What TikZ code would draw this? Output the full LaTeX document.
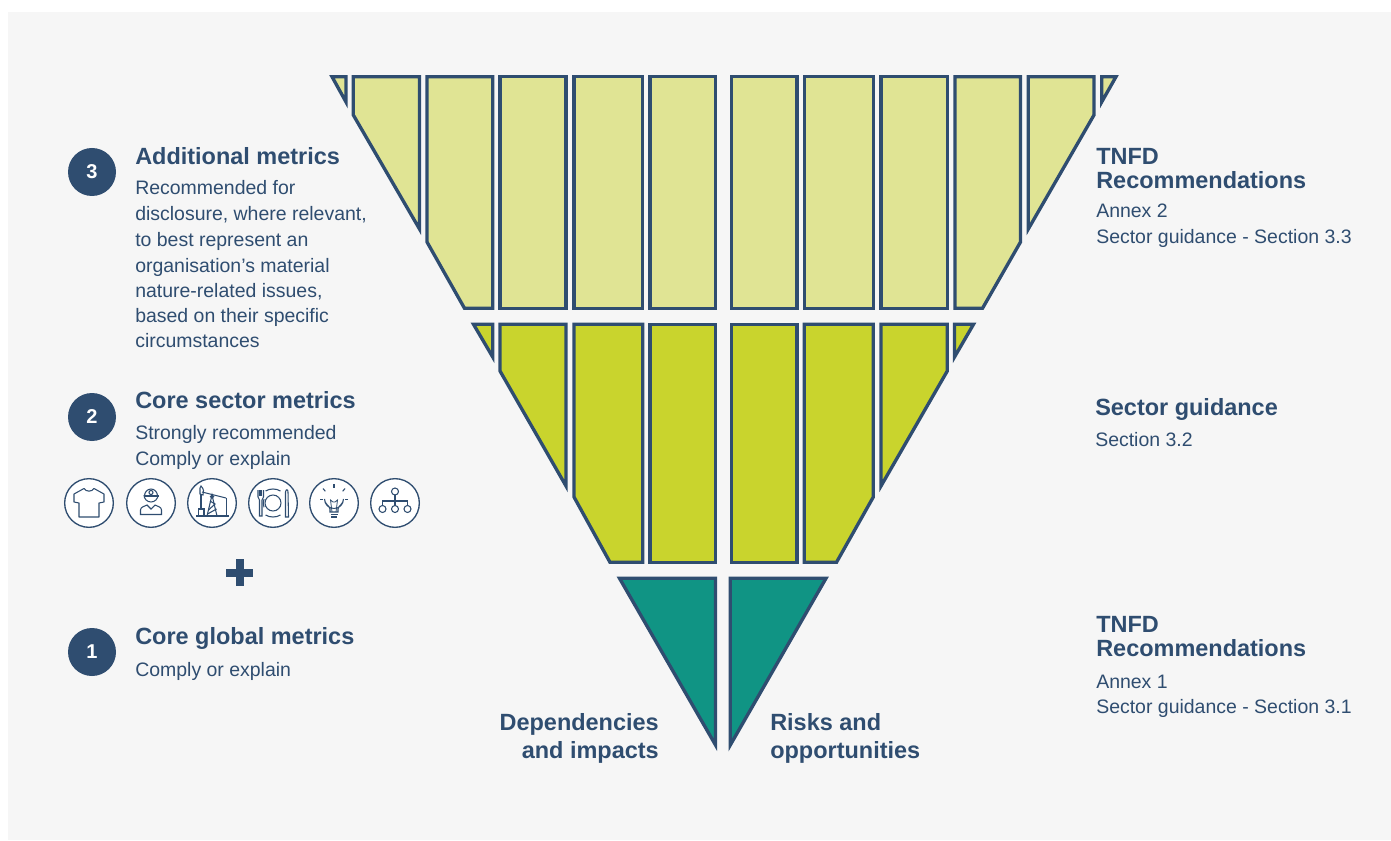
\documentclass[tikz,border=0pt]{standalone}
\usepackage{fontspec}
\setmainfont{Liberation Sans}
\definecolor{navy}{HTML}{2F4D70}
\definecolor{bgc}{HTML}{F6F6F6}
\definecolor{pale}{HTML}{E0E494}
\definecolor{lime}{HTML}{C9D42D}
\definecolor{teal2}{HTML}{109484}
\tikzset{
  panel/.style={draw=navy,line width=2.5pt,miter limit=10,line join=miter},
  icon/.style={draw=navy,line width=0.8pt},
  head/.style={anchor=base west,inner sep=0pt,text=navy,font=\fontsize{17.6pt}{20pt}\selectfont\bfseries},
  body/.style={anchor=base west,inner sep=0pt,text=navy,font=\fontsize{14.6pt}{19.2pt}\selectfont},
  num/.style={circle,fill=navy,text=white,minimum size=36pt,inner sep=0pt,font=\fontsize{15pt}{16pt}\selectfont\bfseries}
}
\begin{document}
\begin{tikzpicture}[x=0.75pt,y=-0.75pt]
\useasboundingbox (0,0) rectangle (1391,841);
\fill[white] (0,0) rectangle (1391,841);
\fill[bgc] (8,12) rectangle (1391,840);
% Row 1
\begin{scope}[panel,fill=pale]
\filldraw (332,76.7) -- (346,76.7) -- (346,102) -- cycle;
\filldraw (353.3,76.7) -- (419.5,76.7) -- (419.5,229) -- (353.3,115) -- cycle;
\filldraw (427,76.7) -- (492.7,76.7) -- (492.7,308.3) -- (464.5,308.3) -- (427,242) -- cycle;
\filldraw (500,76.7) rectangle (566,308.3);
\filldraw (574,76.7) rectangle (642.7,308.3);
\filldraw (650,76.7) rectangle (715.7,308.3);
\filldraw (731.7,76.7) rectangle (797,308.3);
\filldraw (804.3,76.7) rectangle (873.3,308.3);
\filldraw (881,76.7) rectangle (947.3,308.3);
\filldraw (955,76.7) -- (1020.5,76.7) -- (1020.5,242) -- (982.5,308.3) -- (955,308.3) -- cycle;
\filldraw (1028.3,76.7) -- (1094,76.7) -- (1094,115) -- (1028.3,229) -- cycle;
\filldraw (1101.7,76.7) -- (1116,76.7) -- (1101.7,102) -- cycle;
\end{scope}
% Row 2
\begin{scope}[panel,fill=lime]
\filldraw (473.5,324.3) -- (492.7,324.3) -- (492.7,357) -- cycle;
\filldraw (500,324.3) -- (566,324.3) -- (566,486) -- (500,371) -- cycle;
\filldraw (574,324.3) -- (642.7,324.3) -- (642.7,562.3) -- (610,562.3) -- (574,497) -- cycle;
\filldraw (650,324.3) rectangle (715.7,562.3);
\filldraw (731.7,324.3) rectangle (797,562.3);
\filldraw (804.3,324.3) -- (873.3,324.3) -- (873.3,497) -- (836.5,562.3) -- (804.3,562.3) -- cycle;
\filldraw (881,324.3) -- (947.3,324.3) -- (947.3,371) -- (881,486) -- cycle;
\filldraw (954.5,324.3) -- (973.5,324.3) -- (954.5,357) -- cycle;
\end{scope}
% Row 3
\begin{scope}[panel,fill=teal2]
\filldraw (619.5,578.3) -- (715.5,578.3) -- (715.5,745) -- cycle;
\filldraw (730.3,578.3) -- (826,578.3) -- (730.3,745) -- cycle;
\end{scope}
% Left numbered items
\node[num] (n3) at (92,172) {3};
\node[num] (n2) at (92,417) {2};
\node[num] (n1) at (92,652) {1};
\node[head] (h3) at (135,165) {Additional metrics};
\node[body] (b3a) at (135,195) {Recommended for};
\node[body] (b3b) at (135,221) {disclosure, where relevant,};
\node[body] (b3c) at (135,247) {to best represent an};
\node[body] (b3d) at (135,273) {organisation’s material};
\node[body] (b3e) at (135,298) {nature-related issues,};
\node[body] (b3f) at (135,323) {based on their specific};
\node[body] (b3g) at (135,348) {circumstances};
\node[head] (h2) at (135,408.5) {Core sector metrics};
\node[body] (b2a) at (135,439) {Strongly recommended};
\node[body] (b2b) at (135,465) {Comply or explain};
\node[head] (h1) at (135,644) {Core global metrics};
\node[body] (b1) at (135,676) {Comply or explain};
% Plus
\fill[navy] (226,568.5) rectangle (253,576.5);
\fill[navy] (235.5,559) rectangle (243.5,586);
% Right texts
\node[head] (r1a) at (1096,165) {TNFD};
\node[head] (r1b) at (1096,189) {Recommendations};
\node[body] (r1c) at (1096,218) {Annex 2};
\node[body] (r1d) at (1096,244) {Sector guidance - Section 3.3};
\node[head] (r2a) at (1095,415) {Sector guidance};
\node[body] (r2b) at (1095,446) {Section 3.2};
\node[head] (r3a) at (1096,632) {TNFD};
\node[head] (r3b) at (1096,656) {Recommendations};
\node[body] (r3c) at (1096,688) {Annex 1};
\node[body] (r3d) at (1096,713) {Sector guidance - Section 3.1};
% Bottom labels
\node[head,anchor=base east] (d1) at (659,730) {Dependencies};
\node[head,anchor=base east] (d2) at (659,758) {and impacts};
\node[head] (ro1) at (770,730) {Risks and};
\node[head] (ro2) at (770,758) {opportunities};
% Icons
\foreach \nm/\cx in {ia/89,ib/151,ic/212,id/273,ie/334,if/395}
  \node[circle,draw=navy,line width=1pt,fill=white,minimum size=36.5pt,inner sep=0pt] (\nm) at (\cx,503) {};
% shirt
\begin{scope}[shift={(89,503)},icon]
\draw[line join=round] (-5,-14.5) .. controls (-3,-11) and (3,-11) .. (5,-14.5) -- (15,-9) -- (15,-1) -- (10,0) -- (10,14) -- (-10,14) -- (-10,0) -- (-15,-1) -- (-15,-9) -- cycle;
\end{scope}
% miner
\begin{scope}[shift={(151,503)},icon]
\draw (-6.5,-7) arc (180:360:6.5 and 7);
\draw (-7.5,-7) -- (7.5,-7);
\draw (-7,-8) arc (180:0:7);
\draw (0,-10.5) circle (2);
\draw (-10.5,11.5) -- (-10.5,7) .. controls (-10.5,4) and (-7,3.5) .. (-4,2) -- (0,6) -- (4,2) .. controls (7,3.5) and (10.5,4) .. (10.5,7) -- (10.5,11.5) -- cycle;
\end{scope}
% oil pump
\begin{scope}[shift={(212,503)},icon]
\draw (-16,13) -- (17,13);
\draw (-5,13) -- (0,-8) -- (5,13);
\draw (-3.5,7) -- (3,1) -- (-2,-2);
\draw (-4.5,11) -- (4.5,6);
\draw (-10,-11) -- (14,-5);
\draw (-11,-17) .. controls (-8,-14) and (-8,-11) .. (-9,-8) -- (-12,-9) -- (-12,-15) -- cycle;
\draw (-11,-9) -- (-11,6);
\draw (-13.5,6) rectangle (-8,13);
\draw (14.5,-5) -- (14.5,13);
\draw (0,-6.5) circle (1.5);
\end{scope}
% plate
\begin{scope}[shift={(273,503)},icon]
\draw (0,0) circle (8);
\draw (-7.5,-12) arc (240:300:15);
\draw (-7.5,12) arc (120:60:15);
\draw (-9,-4) arc (200:160:12);
\draw (-15,-13) -- (-15,-6) -- (-13.5,-3) -- (-13.5,13) -- (-11,13) -- (-11,-3) -- (-9.5,-6) -- (-9.5,-13);
\draw (-13,-13) -- (-13,-7); \draw (-11.5,-13) -- (-11.5,-7);
\draw (12.5,14) -- (12.5,-11) .. controls (13,-14) and (15,-14) .. (15,-11) -- (15.5,14) -- cycle;
\end{scope}
% bulb
\begin{scope}[shift={(334,503)},icon]
\draw (-4,9) -- (-4,6) .. controls (-5,2) and (-9.5,1) .. (-9.5,-4) arc (180:0:9.5) .. controls (9.5,1) and (5,2) .. (4,6) -- (4,9) -- cycle;
\draw[line width=0.6pt] (-2,9) -- (-3.5,-3) -- (-1,-1) -- (1,-1) -- (3.5,-3) -- (2,9);
\draw (-3.5,11.5) -- (3.5,11.5);
\draw (-3,14) -- (3,14);
\draw (0,-19) -- (0,-15.5);
\draw (-11,-14.5) -- (-8.7,-11.7); \draw (11,-14.5) -- (8.7,-11.7);
\draw (-14,-3.5) -- (-11,-3.5); \draw (14,-3.5) -- (11,-3.5);
\end{scope}
% org chart
\begin{scope}[shift={(395,503)},icon]
\draw (0,-11.5) circle (3.5);
\draw (-12.5,6) circle (3.5);
\draw (0,6) circle (3.5);
\draw (12.5,6) circle (3.5);
\draw (0,-8) -- (0,2.5);
\draw (-12.5,2.5) -- (-12.5,-2) -- (12.5,-2) -- (12.5,2.5);
\end{scope}
\end{tikzpicture}
\end{document}
